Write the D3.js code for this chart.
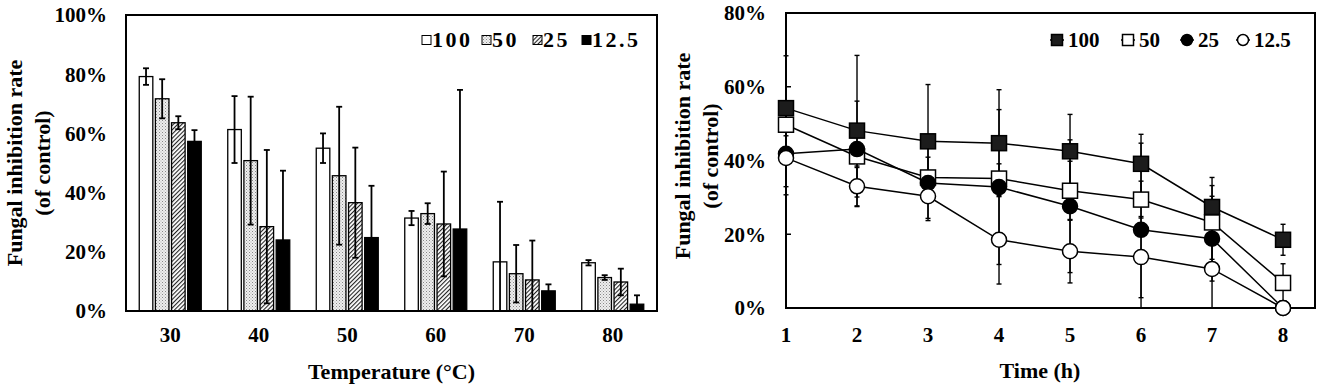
<!DOCTYPE html>
<meta charset="UTF-8">
<style>
body { margin: 0; background: #fff; }
text { font-family: "Liberation Serif", "Times New Roman", serif; font-weight: bold; fill: #000; }
.frame { fill: none; stroke: #000; stroke-width: 2px; }
.err { stroke: #000; fill: none; }
</style>
<body>
<script src="https://d3js.org/d3.v7.min.js"></script>
<script>
// ---- data: left panel (temperature) ----
const temps = ["30", "40", "50", "60", "70", "80"];
const concs = ["100", "50", "25", "12.5"];
const bar100 = [79.2, 61.3, 55.0, 31.4, 16.6, 16.3];
const bar100Err = [2.8, 11.3, 5.0, 2.4, 20.3, 0.9];
const bar50 = [71.7, 50.8, 45.7, 32.9, 12.6, 11.3];
const bar50Err = [6.6, 21.6, 23.3, 3.5, 9.7, 0.8];
const bar25 = [63.6, 28.5, 36.6, 29.4, 10.5, 9.8];
const bar25Err = [2.2, 25.9, 18.6, 17.7, 13.3, 4.5];
const bar12 = [57.3, 24.0, 24.8, 27.7, 6.8, 2.3];
const bar12Err = [3.8, 23.4, 17.5, 47.0, 2.2, 3.0];
const leftTicks = [0, 20, 40, 60, 80, 100];

// ---- data: right panel (time) ----
const hours = [1, 2, 3, 4, 5, 6, 7, 8];
const line100 = [54.2, 48.1, 45.2, 44.7, 42.5, 39.1, 27.4, 18.5];
const line100Err = [14.2, 20.4, 15.4, 14.5, 10.0, 8.0, 8.0, 4.2];
const line50 = [49.7, 41.1, 35.4, 35.1, 31.8, 29.4, 23.2, 6.8];
const line50Err = [3.0, 3.0, 5.5, 4.0, 8.0, 5.0, 10.0, 5.2];
const line25 = [41.8, 43.1, 33.9, 32.8, 27.6, 21.2, 18.8, 0];
const line25Err = [8.9, 13.0, 10.2, 21.0, 18.0, 23.5, 11.5, 0];
const line12 = [40.7, 33.0, 30.3, 18.5, 15.4, 13.8, 10.6, 0];
const line12Err = [10.0, 5.5, 6.0, 12.0, 8.6, 11.0, 10.6, 0];
const rightTicks = [0, 20, 40, 60, 80];

const fmtPct = d => d + "%";

var svg = d3.select("body").append("svg")
    .attr("width", 1325)
    .attr("height", 390);

// fill patterns for the bars
var defs = svg.append("defs");
var dots = defs.append("pattern").attr("id", "dots")
    .attr("width", 3).attr("height", 3).attr("patternUnits", "userSpaceOnUse");
dots.append("rect").attr("width", 3).attr("height", 3).attr("fill", "#eee");
dots.append("rect").attr("width", 1).attr("height", 1).attr("fill", "#888");
dots.append("rect").attr("x", 1.5).attr("y", 1.5).attr("width", 1).attr("height", 1).attr("fill", "#aaa");

var hatch = defs.append("pattern").attr("id", "hatch")
    .attr("width", 3).attr("height", 3).attr("patternUnits", "userSpaceOnUse")
    .attr("patternTransform", "rotate(45)");
hatch.append("rect").attr("width", 3).attr("height", 3).attr("fill", "#fff");
hatch.append("line").attr("x1", 0).attr("y1", 0).attr("x2", 0).attr("y2", 3)
    .attr("stroke", "#222").attr("stroke-width", 2.2);

const barFills = ["#fff", "url(#dots)", "url(#hatch)", "#000"];

// =================== left panel ===================
var L = {left: 126, right: 657, top: 15, bottom: 311};

var x0 = d3.scaleBand().domain(temps).range([L.left, L.right]).padding(0);
var x1 = d3.scaleBand().domain(concs).range([-31, 31]).paddingInner(0.16);
var yL = d3.scaleLinear().domain([0, 100]).range([L.bottom, L.top]);

var barSeries = [
  {name: "100", vals: bar100, errs: bar100Err},
  {name: "50", vals: bar50, errs: bar50Err},
  {name: "25", vals: bar25, errs: bar25Err},
  {name: "12.5", vals: bar12, errs: bar12Err}
];

var gL = svg.append("g");

barSeries.forEach(function(s, si) {
  var rows = temps.map((t, i) => ({t: t, v: s.vals[i], e: s.errs[i]}));
  gL.selectAll(".bar" + si)
    .data(rows)
    .enter().append("rect")
      .attr("x", d => x0(d.t) + x0.bandwidth() / 2 + x1(s.name))
      .attr("y", d => yL(d.v))
      .attr("width", x1.bandwidth())
      .attr("height", d => yL(0) - yL(d.v))
      .attr("fill", barFills[si])
      .attr("stroke", "#000")
      .attr("stroke-width", 1.3);
});

// error bars on top
barSeries.forEach(function(s, si) {
  temps.forEach(function(t, i) {
    var cx = x0(t) + x0.bandwidth() / 2 + x1(s.name) + x1.bandwidth() / 2;
    var hi = yL(s.vals[i] + s.errs[i]);
    var lo = yL(Math.max(0, s.vals[i] - s.errs[i]));
    var g = gL.append("g").attr("class", "err").attr("stroke-width", 1.8);
    g.append("line").attr("x1", cx).attr("x2", cx).attr("y1", hi).attr("y2", lo);
    g.append("line").attr("x1", cx - 3).attr("x2", cx + 3).attr("y1", hi).attr("y2", hi);
    if (s.vals[i] - s.errs[i] > 0)
      g.append("line").attr("x1", cx - 3).attr("x2", cx + 3).attr("y1", lo).attr("y2", lo);
  });
});

gL.append("rect").attr("class", "frame")
  .attr("x", L.left).attr("y", L.top)
  .attr("width", L.right - L.left).attr("height", L.bottom - L.top);

// y tick labels
gL.selectAll(".ytl")
  .data(leftTicks)
  .enter().append("text")
    .attr("x", 107)
    .attr("y", d => yL(d))
    .attr("dy", "0.35em")
    .attr("text-anchor", "end")
    .style("font-size", "21px")
    .text(fmtPct);

// x tick labels
gL.selectAll(".xtl")
  .data(temps)
  .enter().append("text")
    .attr("x", d => x0(d) + x0.bandwidth() / 2)
    .attr("y", 342)
    .attr("text-anchor", "middle")
    .style("font-size", "21px")
    .text(d => d);

gL.append("text")
  .attr("x", (L.left + L.right) / 2)
  .attr("y", 379)
  .attr("text-anchor", "middle")
  .style("font-size", "22px")
  .text("Temperature (°C)");

var ytL = gL.append("text")
  .attr("transform", "translate(0," + (L.top + L.bottom) / 2 + ") rotate(-90)")
  .attr("text-anchor", "middle")
  .style("font-size", "22px");
ytL.append("tspan").attr("x", 0).attr("y", 22).text("Fungal inhibition rate");
ytL.append("tspan").attr("x", 0).attr("y", 50).text("(of control)");

// legend (left) - swatch left edges
const legLX = [422, 482, 533, 582];
var legL = gL.append("g");
concs.forEach(function(c, i) {
  legL.append("rect")
    .attr("x", legLX[i]).attr("y", 35.5)
    .attr("width", 9).attr("height", 9)
    .attr("fill", barFills[i]).attr("stroke", "#000").attr("stroke-width", 1);
  legL.append("text")
    .attr("x", legLX[i] + 10).attr("y", 46.5)
    .style("font-size", "22px")
    .style("letter-spacing", "2.5px")
    .text(c);
});

// =================== right panel ===================
var R = {left: 786, right: 1315, top: 13, bottom: 308};

var xR = d3.scaleLinear().domain([1, 8.45]).range([R.left, R.right]);
var yR = d3.scaleLinear().domain([0, 80]).range([R.bottom, R.top]);

var lineSeries = [
  {name: "100", vals: line100, errs: line100Err, shape: "square", fill: "#1c1c1c"},
  {name: "50", vals: line50, errs: line50Err, shape: "square", fill: "#fff"},
  {name: "25", vals: line25, errs: line25Err, shape: "circle", fill: "#000"},
  {name: "12.5", vals: line12, errs: line12Err, shape: "circle", fill: "#fff"}
];

var gR = svg.append("g");

// error bars behind markers
lineSeries.forEach(function(s) {
  hours.forEach(function(h, i) {
    if (s.errs[i] <= 0) return;
    var cx = xR(h);
    var hi = yR(s.vals[i] + s.errs[i]);
    var lo = yR(Math.max(0, s.vals[i] - s.errs[i]));
    var g = gR.append("g").attr("class", "err").attr("stroke-width", 1.4);
    g.append("line").attr("x1", cx).attr("x2", cx).attr("y1", hi).attr("y2", lo);
    g.append("line").attr("x1", cx - 2.5).attr("x2", cx + 2.5).attr("y1", hi).attr("y2", hi);
    if (s.vals[i] - s.errs[i] > 0)
      g.append("line").attr("x1", cx - 2.5).attr("x2", cx + 2.5).attr("y1", lo).attr("y2", lo);
  });
});

gR.append("rect").attr("class", "frame")
  .attr("x", R.left).attr("y", R.top)
  .attr("width", R.right - R.left).attr("height", R.bottom - R.top);

// inward y ticks
gR.selectAll(".ytk")
  .data(rightTicks)
  .enter().append("line")
    .attr("x1", R.left).attr("x2", R.left + 5)
    .attr("y1", d => yR(d)).attr("y2", d => yR(d))
    .attr("stroke", "#000").attr("stroke-width", 1.5);

var line = d3.line().x((d, i) => xR(hours[i])).y(d => yR(d));

function drawMarker(g, shape, fill, cx, cy, size) {
  if (shape === "square") {
    g.append("rect")
      .attr("x", cx - size / 2).attr("y", cy - size / 2)
      .attr("width", size).attr("height", size)
      .attr("fill", fill).attr("stroke", "#000").attr("stroke-width", 1.5);
  } else {
    g.append("circle")
      .attr("cx", cx).attr("cy", cy).attr("r", size / 2)
      .attr("fill", fill).attr("stroke", "#000").attr("stroke-width", 1.5);
  }
}

lineSeries.forEach(function(s) {
  var g = gR.append("g");
  g.append("path")
    .attr("d", line(s.vals))
    .attr("fill", "none").attr("stroke", "#000").attr("stroke-width", 1.5);
  s.vals.forEach(function(v, i) {
    drawMarker(g, s.shape, s.fill, xR(hours[i]), yR(v), 15);
  });
});

gR.selectAll(".ytl")
  .data(rightTicks)
  .enter().append("text")
    .attr("x", 766)
    .attr("y", d => yR(d))
    .attr("dy", "0.35em")
    .attr("text-anchor", "end")
    .style("font-size", "21px")
    .text(fmtPct);

gR.selectAll(".xtl")
  .data(hours)
  .enter().append("text")
    .attr("x", d => xR(d))
    .attr("y", 342)
    .attr("text-anchor", "middle")
    .style("font-size", "21px")
    .text(d => d);

gR.append("text")
  .attr("x", 1040)
  .attr("y", 378)
  .attr("text-anchor", "middle")
  .style("font-size", "22px")
  .text("Time (h)");

var ytR = gR.append("text")
  .attr("transform", "translate(0," + 156 + ") rotate(-90)")
  .attr("text-anchor", "middle")
  .style("font-size", "22px");
ytR.append("tspan").attr("x", 0).attr("y", 690).text("Fungal inhibition rate");
ytR.append("tspan").attr("x", 0).attr("y", 718).text("(of control)");

// legend (right) - marker centres
const legRX = [1057, 1128, 1187, 1243];
var legR = gR.append("g");
lineSeries.forEach(function(s, i) {
  var rx = legRX[i];
  legR.append("line")
    .attr("x1", rx - 7).attr("x2", rx + 7).attr("y1", 40).attr("y2", 40)
    .attr("stroke", "#000").attr("stroke-width", 1.5);
  drawMarker(legR, s.shape, s.fill, rx, 40, 11);
  legR.append("text")
    .attr("x", rx + 11).attr("y", 47)
    .style("font-size", "21px")
    .text(s.name);
});
</script>
</body>
